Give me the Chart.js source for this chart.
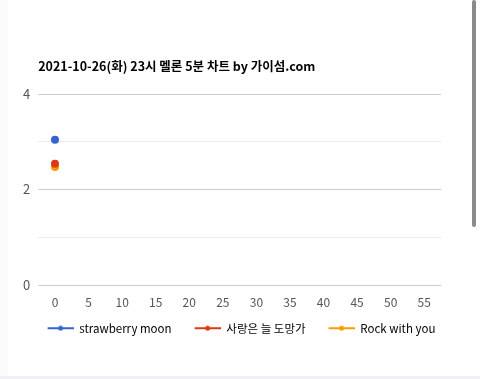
<!DOCTYPE html>
<html>
<head>
<meta charset="utf-8">
<script src="https://cdn.jsdelivr.net/npm/chart.js@4"></script>
<style>
  body { margin: 0; background: #fff; }
  #wrap { position: relative; width: 480px; height: 379px; overflow: hidden; }
  #scroll { position: absolute; left: 472px; top: 0; width: 4px; height: 227px; background: #8a8a8a; border-radius: 2px; }
  #edge { position: absolute; left: 0; top: 0; width: 8px; height: 379px; background: #fafafa; }
  #foot { position: absolute; left: 0; top: 376px; width: 480px; height: 3px; background: #f1f0f6; }
  canvas { position: absolute; left: 0; top: 0; }
</style>
</head>
<body>
<div id="wrap">
  <div id="edge"></div>
  <canvas id="chart" width="480" height="379"></canvas>
  <div id="scroll"></div>
  <div id="foot"></div>
</div>
<script>
const chartTitle = "2021-10-26(화) 23시 멜론 5분 차트 by 가이섬.com";
const minutes = ["0", "5", "10", "15", "20", "25", "30", "35", "40", "45", "50", "55"];
const songNames = ["strawberry moon", "사랑은 늘 도망가", "Rock with you"];
const songColors = ["#3366cc", "#dc3912", "#ff9900"];
const strawberryMoon = [3.04];
const sarangeunNeul = [2.54];
const rockWithYou = [2.47];

const fontFamily = "'Noto Sans CJK KR', 'Noto Sans', sans-serif";

// legend marker: blank gap, then a short line with a dot in the middle
function legendMarker(color) {
  const c = document.createElement("canvas");
  c.width = 38;
  c.height = 6;
  const ctx = c.getContext("2d");
  ctx.fillStyle = color;
  ctx.fillRect(12, 2, 26, 2);
  ctx.beginPath();
  ctx.arc(25, 3, 2.5, 0, Math.PI * 2);
  ctx.fill();
  return c;
}

// title drawn at left edge of the plot area
const titlePlugin = {
  id: "leftTitle",
  afterDraw(chart) {
    const ctx = chart.ctx;
    ctx.save();
    ctx.font = "bold 12.5px " + fontFamily;
    ctx.fillStyle = "#000";
    ctx.textBaseline = "middle";
    ctx.fillText(chartTitle, chart.chartArea.left, 66);
    ctx.restore();
  }
};

const seriesData = [strawberryMoon, sarangeunNeul, rockWithYou];

new Chart(document.getElementById("chart"), {
  type: "line",
  data: {
    labels: minutes,
    datasets: songNames.map((name, i) => ({
      label: name,
      data: seriesData[i],
      borderColor: songColors[i],
      backgroundColor: songColors[i],
      borderWidth: 2,
      pointRadius: 3,
      pointHoverRadius: 3
    }))
  },
  options: {
    responsive: false,
    animation: false,
    layout: { padding: { top: 94, left: 15, right: 24, bottom: 35 } },
    scales: {
      x: {
        offset: true,
        grid: { display: false },
        border: { display: false },
        ticks: { color: "#555", font: { family: fontFamily, size: 12 }, autoSkip: false, maxRotation: 0, padding: 2 }
      },
      y: {
        min: 0,
        max: 4,
        border: { display: false },
        grid: {
          color: ctx => (ctx.tick && ctx.tick.value % 2 === 0 ? "#cccccc" : "#ebebeb"),
          drawTicks: false
        },
        ticks: {
          stepSize: 1,
          color: "#555",
          padding: 8,
          font: { family: fontFamily, size: 13 },
          callback: v => (v % 2 === 0 ? v : "")
        }
      },
      // empty right gutter so the legend can use the full width
      gutter: {
        position: "right",
        grid: { display: false },
        border: { display: false },
        ticks: { display: false },
        afterFit: scale => { scale.width = 15; }
      }
    },
    plugins: {
      title: { display: false },
      tooltip: { enabled: false },
      legend: {
        position: "bottom",
        labels: {
          usePointStyle: true,
          pointStyleWidth: 38,
          padding: 11,
          color: "#333",
          font: { family: fontFamily, size: 11.5 },
          generateLabels: chart => chart.data.datasets.map((ds, i) => ({
            text: ds.label,
            pointStyle: legendMarker(ds.borderColor),
            fillStyle: ds.borderColor,
            strokeStyle: ds.borderColor,
            lineWidth: 0,
            datasetIndex: i
          }))
        }
      }
    }
  },
  plugins: [titlePlugin]
});
</script>
</body>
</html>
